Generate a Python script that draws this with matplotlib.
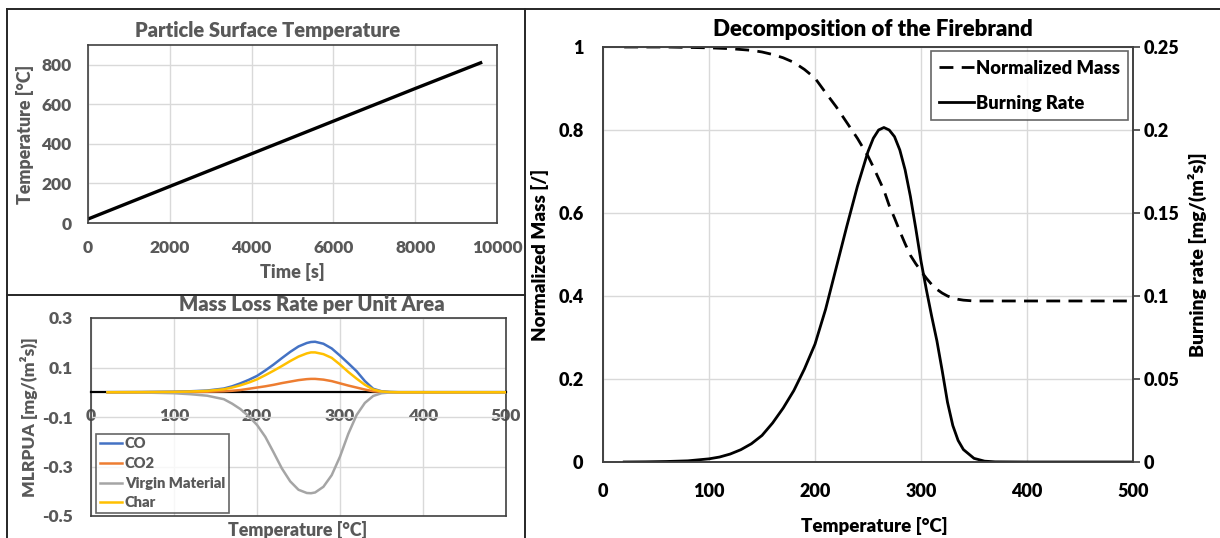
import matplotlib.pyplot as plt
from matplotlib.lines import Line2D

WT = "heavy"
plt.rcParams["font.family"] = ["Lato", "DejaVu Sans"]
plt.rcParams["font.weight"] = WT
plt.rcParams["axes.labelweight"] = WT

GRAY_TXT = "#595959"
GRID = "#D9D9D9"
FRAME = "#404040"

# --- particle surface temperature (time series) ---
time_s = [0, 2000, 4000, 6000, 8000, 9600]
surf_temp = [20, 185, 350, 515, 680, 810]

# --- decomposition of the firebrand ---
temp_c = [20, 40, 60, 80, 100, 110, 120, 130, 140, 150, 160, 170, 180, 190,
          200, 210, 220, 230, 240, 250, 255, 260, 265, 270, 275, 280, 285,
          290, 295, 300, 305, 310, 315, 320, 325, 330, 335, 340, 350, 360,
          370, 400, 450, 500]
norm_mass = [1.000, 1.000, 1.000, 0.999, 0.998, 0.997, 0.996, 0.994, 0.992,
             0.988, 0.982, 0.974, 0.963, 0.946, 0.925, 0.890, 0.856, 0.818,
             0.780, 0.737, 0.711, 0.683, 0.655, 0.618, 0.588, 0.556, 0.526,
             0.498, 0.478, 0.460, 0.443, 0.428, 0.416, 0.407, 0.400, 0.395,
             0.392, 0.390, 0.388, 0.388, 0.388, 0.388, 0.388, 0.388]
burn_rate = [0.0000, 0.0001, 0.0003, 0.0007, 0.0019, 0.0030, 0.0048, 0.0074,
             0.0110, 0.0160, 0.0235, 0.0325, 0.0430, 0.0560, 0.0710, 0.0920,
             0.1170, 0.1420, 0.1660, 0.1870, 0.1950, 0.2000, 0.2015, 0.2000,
             0.1960, 0.1880, 0.1760, 0.1600, 0.1410, 0.1210, 0.1040, 0.0880,
             0.0730, 0.0550, 0.0360, 0.0220, 0.0130, 0.0075, 0.0022, 0.0005,
             0.0001, 0.0, 0.0, 0.0]

# --- mass loss rate per unit area ---
mlr_temp = [20, 60, 100, 120, 140, 160, 170, 180, 190, 200, 210, 220, 230,
            240, 250, 260, 265, 270, 280, 290, 300, 310, 320, 330, 340, 350,
            360, 370, 400, 450, 500]
mlr_co = [0.0, 0.0005, 0.002, 0.004, 0.007, 0.015, 0.024, 0.036, 0.050, 0.066,
          0.088, 0.112, 0.138, 0.163, 0.185, 0.199, 0.203, 0.204, 0.196,
          0.177, 0.148, 0.117, 0.085, 0.045, 0.014, 0.004, 0.001, 0.0, 0.0,
          0.0, 0.0]
mlr_co2 = [0.0, 0.0001, 0.0005, 0.001, 0.002, 0.004, 0.006, 0.009, 0.014,
           0.019, 0.024, 0.030, 0.037, 0.043, 0.049, 0.053, 0.054, 0.054,
           0.051, 0.045, 0.036, 0.027, 0.019, 0.011, 0.004, 0.001, 0.0, 0.0,
           0.0, 0.0, 0.0]
mlr_virgin = [0.0, -0.001, -0.004, -0.008, -0.014, -0.028, -0.046, -0.068,
              -0.097, -0.132, -0.180, -0.243, -0.308, -0.360, -0.394, -0.407,
              -0.408, -0.405, -0.382, -0.335, -0.260, -0.168, -0.092, -0.043,
              -0.015, -0.004, -0.001, 0.0, 0.0, 0.0, 0.0]
mlr_char = [0.0, 0.0004, 0.0015, 0.003, 0.0055, 0.012, 0.019, 0.028, 0.039,
            0.052, 0.069, 0.087, 0.106, 0.126, 0.144, 0.157, 0.161, 0.161,
            0.154, 0.139, 0.112, 0.082, 0.055, 0.030, 0.011, 0.003, 0.0008,
            0.0, 0.0, 0.0, 0.0]

W, H = 1220, 538


def box(x0, y0, x1, y1):
    return [x0 / W, 1 - y1 / H, (x1 - x0) / W, (y1 - y0) / H]


def bold_ticks(ax):
    for lbl in ax.get_xticklabels() + ax.get_yticklabels():
        lbl.set_fontweight(WT)


fig = plt.figure(figsize=(12.2, 5.38), dpi=100)

# panel borders
for xs, ys in [((7, 1220), (9, 9)), ((7, 7), (9, 538)), ((525, 525), (9, 538)),
               ((7, 525), (295, 295))]:
    fig.add_artist(Line2D([x / W for x in xs], [1 - y / H for y in ys],
                          color="#262626", lw=1.4))

# ---------- top-left ----------
ax1 = fig.add_axes(box(88, 45, 497, 223))
ax1.plot(time_s, surf_temp, color="black", lw=2.4)
ax1.set_xlim(0, 10000)
ax1.set_ylim(0, 900)
ax1.set_xticks(range(0, 10001, 2000))
ax1.set_yticks(range(0, 801, 200))
ax1.grid(True, color=GRID, lw=1)
ax1.set_axisbelow(True)
ax1.tick_params(length=0, labelsize=12.5, labelcolor=GRAY_TXT, pad=12)
for s in ax1.spines.values():
    s.set_color(FRAME)
    s.set_linewidth(1.2)
ax1.set_xlabel("Time [s]", fontsize=13, color=GRAY_TXT, labelpad=5)
ax1.set_ylabel("Temperature [°C]", fontsize=12.8, color=GRAY_TXT, labelpad=5)
bold_ticks(ax1)
fig.text(268 / W, 1 - 30 / H, "Particle Surface Temperature", ha="center",
         va="center", fontsize=14.5, color=GRAY_TXT, weight=WT)

# ---------- bottom-left ----------
ax2 = fig.add_axes(box(91, 318, 506, 516))
ax2.plot(mlr_temp, mlr_co, color="#4472C4", lw=1.8, label="CO", zorder=3)
ax2.plot(mlr_temp, mlr_co2, color="#ED7D31", lw=1.8, label="CO2", zorder=3)
ax2.plot(mlr_temp, mlr_virgin, color="#A5A5A5", lw=1.8,
         label="Virgin Material", zorder=3)
ax2.plot(mlr_temp, mlr_char, color="#FFC000", lw=1.8, label="Char", zorder=3)
ax2.set_xlim(0, 500)
ax2.set_ylim(-0.5, 0.3)
ax2.set_xticks(range(0, 501, 100))
ax2.set_yticks([-0.5, -0.3, -0.1, 0.1, 0.3])
ax2.set_yticklabels(["-0.5", "-0.3", "-0.1", "0.1", "0.3"])
ax2.grid(True, color=GRID, lw=1)
ax2.set_axisbelow(True)
ax2.spines["bottom"].set_position(("data", 0))
ax2.spines["bottom"].set_color("black")
ax2.spines["bottom"].set_linewidth(1.6)
for k in ("top", "left", "right"):
    ax2.spines[k].set_color(FRAME)
    ax2.spines[k].set_linewidth(1.2)
ax2.plot([0, 1], [0, 0], transform=ax2.transAxes, color=FRAME, lw=1.2,
         clip_on=False)
ax2.tick_params(length=0, labelsize=12.5, labelcolor=GRAY_TXT)
ax2.tick_params(axis="x", pad=11)
ax2.tick_params(axis="y", pad=13)
ax2.set_ylabel("MLRPUA [mg/(m²s)]", fontsize=12.5, color=GRAY_TXT, labelpad=3)
bold_ticks(ax2)
fig.text(298 / W, 1 - 530 / H, "Temperature [°C]", ha="center", va="center",
         fontsize=12.8, color=GRAY_TXT, weight=WT)
fig.text(312 / W, 1 - 305 / H, "Mass Loss Rate per Unit Area", ha="center",
         va="center", fontsize=14.5, color=GRAY_TXT, weight=WT)
leg2 = ax2.legend(loc="lower left", bbox_to_anchor=(0.012, 0.015),
                  prop={"size": 10.6, "weight": WT}, frameon=True,
                  fancybox=False, edgecolor=FRAME, handlelength=1.5,
                  handletextpad=0.2, labelspacing=0.45, borderpad=0.25,
                  borderaxespad=0)
leg2.get_frame().set_linewidth(1.2)
for t in leg2.get_texts():
    t.set_color(GRAY_TXT)

# ---------- right ----------
ax3 = fig.add_axes(box(603, 47, 1133, 462))
ln_mass, = ax3.plot(temp_c, norm_mass, color="black", lw=2, ls=(0, (5, 3)),
                    label="Normalized Mass")
ax3.set_xlim(0, 500)
ax3.set_ylim(0, 1)
ax3.set_xticks(range(0, 501, 100))
ax3.set_yticks([0, 0.2, 0.4, 0.6, 0.8, 1.0])
ax3.set_yticklabels(["0", "0.2", "0.4", "0.6", "0.8", "1"])
ax3.grid(True, color=GRID, lw=1)
ax3.set_axisbelow(True)
ax3.tick_params(length=0, labelsize=13, labelcolor="black")
ax3.tick_params(axis="x", pad=15)
ax3.tick_params(axis="y", pad=14)
ax4 = ax3.twinx()
ln_burn, = ax4.plot(temp_c, burn_rate, color="black", lw=2,
                    label="Burning Rate")
ax4.set_ylim(0, 0.25)
ax4.set_yticks([0, 0.05, 0.1, 0.15, 0.2, 0.25])
ax4.set_yticklabels(["0", "0.05", "0.1", "0.15", "0.2", "0.25"])
ax4.tick_params(axis="y", length=5, width=1.2, color=FRAME, labelsize=13,
                pad=3, direction="out")
for a in (ax3, ax4):
    for s in a.spines.values():
        s.set_color(FRAME)
        s.set_linewidth(1.2)
ax3.set_ylabel("Normalized Mass [/]", fontsize=13.5, labelpad=7)
ax4.set_ylabel("Burning rate [mg/(m²s)]", fontsize=14, labelpad=6)
bold_ticks(ax3)
bold_ticks(ax4)
fig.text(874 / W, 1 - 526 / H, "Temperature [°C]", ha="center", va="center",
         fontsize=13.5, weight=WT)
fig.text(873 / W, 1 - 30 / H, "Decomposition of the Firebrand", ha="center",
         va="center", fontsize=16, weight=WT)
leg3 = ax4.legend([ln_mass, ln_burn], ["Normalized Mass", "Burning Rate"],
                  loc="upper right", bbox_to_anchor=(0.991, 0.99),
                  prop={"size": 13.2, "weight": WT}, frameon=True,
                  fancybox=False, edgecolor=FRAME, handlelength=1.9,
                  handletextpad=0.1, labelspacing=0.98, borderpad=0.46,
                  borderaxespad=0)
leg3.get_frame().set_linewidth(1.2)

fig.savefig("out.png", dpi=100)
